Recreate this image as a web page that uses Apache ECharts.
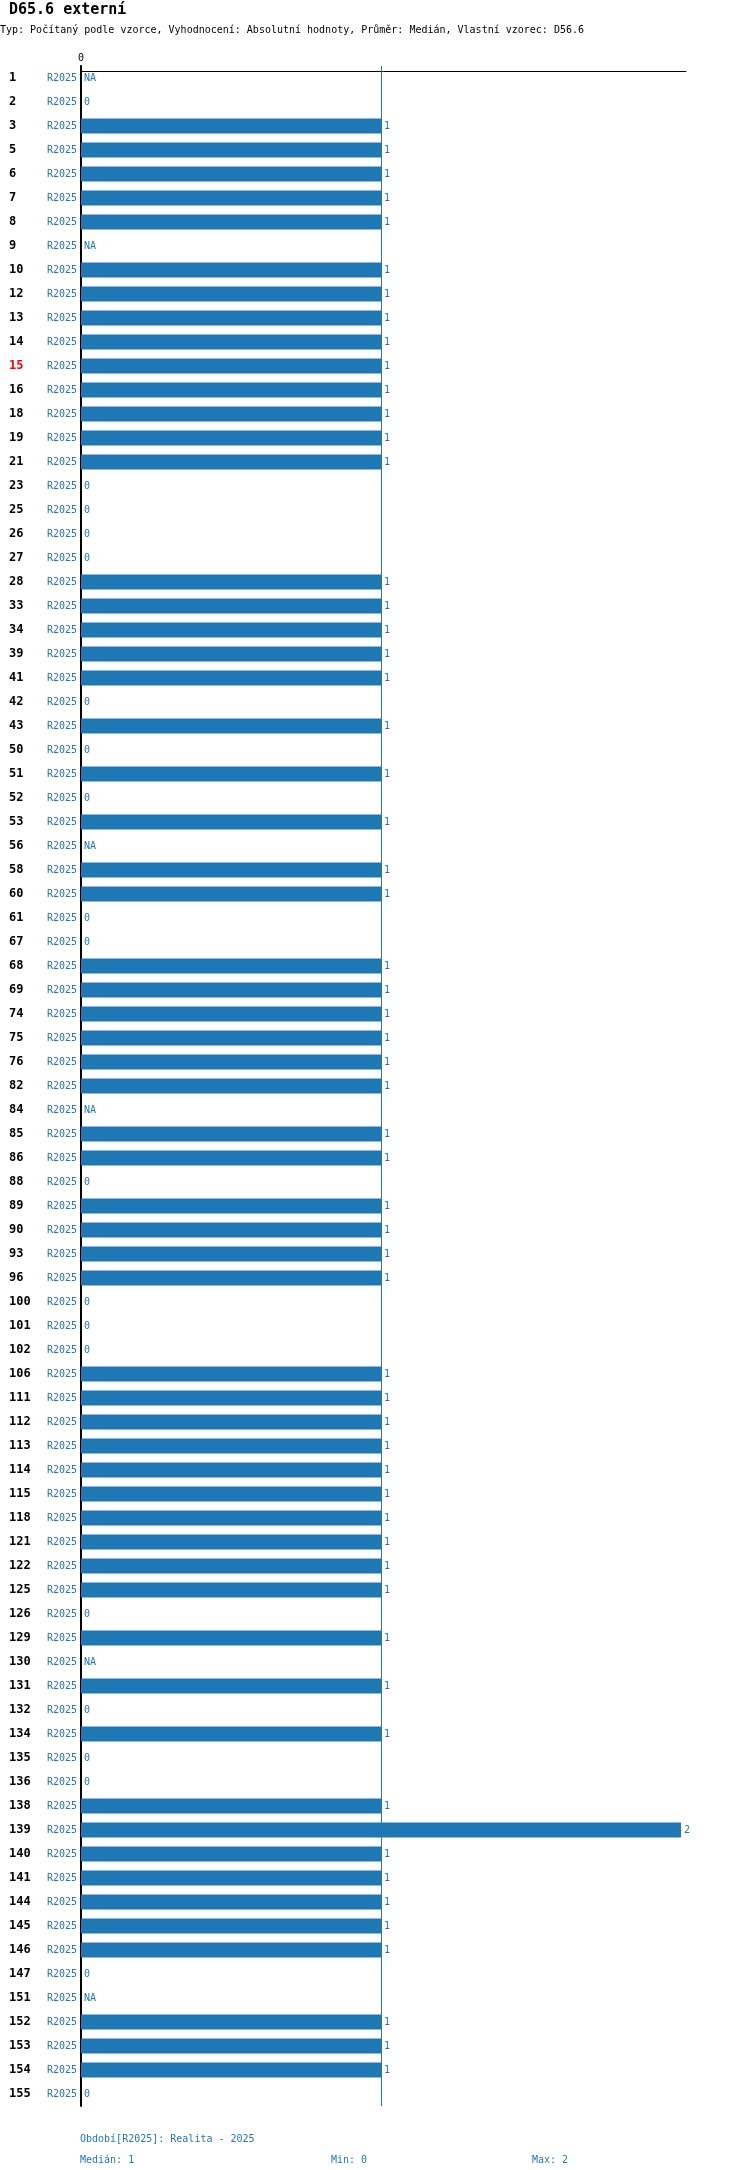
<!DOCTYPE html>
<html>
<head>
<meta charset="utf-8">
<script src="https://cdn.jsdelivr.net/npm/echarts@6/dist/echarts.min.js"></script>
<style>html,body{margin:0;padding:0;background:#fff}#c{width:750px;height:2170px}</style>
</head>
<body>
<div id="c"></div>
<script>
const categories = ['1','2','3','5','6','7','8','9','10','12','13','14','15','16','18','19','21','23','25','26','27','28','33','34','39','41','42','43','50','51','52','53','56','58','60','61','67','68','69','74','75','76','82','84','85','86','88','89','90','93','96','100','101','102','106','111','112','113','114','115','118','121','122','125','126','129','130','131','132','134','135','136','138','139','140','141','144','145','146','147','151','152','153','154','155'];
const values = [null,0,1,1,1,1,1,null,1,1,1,1,1,1,1,1,1,0,0,0,0,1,1,1,1,1,0,1,0,1,0,1,null,1,1,0,0,1,1,1,1,1,1,null,1,1,0,1,1,1,1,0,0,0,1,1,1,1,1,1,1,1,1,1,0,1,null,1,0,1,0,0,1,2,1,1,1,1,1,0,null,1,1,1,0];
const periodLabel = 'R2025';
const highlighted = ['15'];
const xTickLabels = ['0'];
const medianValue = 1;
const titleText = 'D65.6 externí';
const subtitleText = 'Typ: Počítaný podle vzorce, Vyhodnocení: Absolutní hodnoty, Průměr: Medián, Vlastní vzorec: D56.6';
const footerPeriod = 'Období[R2025]: Realita - 2025';
const footerStats = ['Medián: 1', 'Min: 0', 'Max: 2'];

const MONO = '"DejaVu Sans Mono", "Liberation Mono", monospace';
const BLUE = '#1f77b4';

const chart = echarts.init(document.getElementById('c'), null, {renderer: 'canvas'});
chart.setOption({
  animation: false,
  textStyle: {fontFamily: MONO},
  graphic: [
    {type: 'text', left: 9, top: 3, style: {text: titleText, font: 'bold 15px ' + MONO, fill: '#000'}},
    {type: 'text', left: 0, top: 25, style: {text: subtitleText, font: '10px ' + MONO, fill: '#000'}},
    {type: 'text', left: 80, top: 2134, style: {text: footerPeriod, font: '10px ' + MONO, fill: BLUE}},
    {type: 'text', left: 80, top: 2155, style: {text: footerStats[0], font: '10px ' + MONO, fill: BLUE}},
    {type: 'text', left: 331, top: 2155, style: {text: footerStats[1], font: '10px ' + MONO, fill: BLUE}},
    {type: 'text', left: 532, top: 2155, style: {text: footerStats[2], font: '10px ' + MONO, fill: BLUE}}
  ],
  grid: {left: 81, right: 64, top: 66, bottom: 64, containLabel: false},
  xAxis: {
    type: 'value', position: 'top', min: 0, max: 2.0167, interval: 1, offset: -5,
    axisLine: {show: true, lineStyle: {color: '#000', width: 1}},
    axisTick: {show: false},
    splitLine: {show: false},
    axisLabel: {show: true, margin: 8, fontSize: 10, color: '#000', fontFamily: MONO,
      formatter: v => (xTickLabels.indexOf(String(v)) >= 0 ? String(v) : '')}
  },
  yAxis: {
    type: 'category', data: categories, inverse: true,
    axisLine: {show: true, lineStyle: {color: '#000', width: 2}},
    axisTick: {show: false},
    splitLine: {show: false},
    axisLabel: {
      margin: 4, interval: 0,
      formatter: v => '{' + (highlighted.indexOf(v) >= 0 ? 'h' : 'n') + '|' + v + '}{r|' + periodLabel + '}',
      rich: {
        n: {fontFamily: MONO, fontWeight: 'bold', fontSize: 12, color: '#000', width: 38, align: 'left'},
        h: {fontFamily: MONO, fontWeight: 'bold', fontSize: 12, color: '#ff0000', width: 38, align: 'left'},
        r: {fontFamily: MONO, fontSize: 10, color: BLUE, width: 30, align: 'right'}
      }
    }
  },
  series: [{
    type: 'bar',
    data: values.map(v => (v === null ? 0 : v)),
    barWidth: 15,
    itemStyle: {color: BLUE},
    label: {
      show: true, position: 'right', distance: 3, color: BLUE, fontSize: 10, fontFamily: MONO,
      formatter: p => (values[p.dataIndex] === null ? 'NA' : String(values[p.dataIndex]))
    },
    markLine: {
      silent: true, symbol: 'none',
      label: {show: false},
      lineStyle: {color: BLUE, width: 1, type: 'solid'},
      data: [{xAxis: medianValue}]
    }
  }]
});
</script>
</body>
</html>
